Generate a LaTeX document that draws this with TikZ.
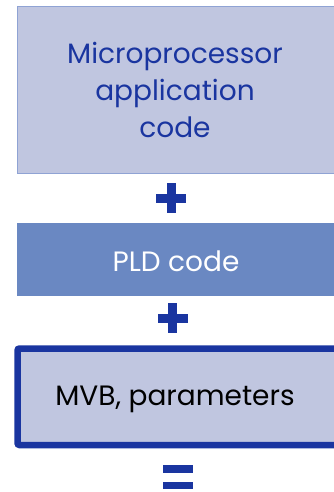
\documentclass[tikz,border=0pt]{standalone}
\usepackage{fontspec}
\setmainfont{Poppins}
\definecolor{lightbox}{HTML}{C0C6E0}
\definecolor{midbox}{HTML}{6A88C2}
\definecolor{darkblue}{HTML}{1A35A0}
\definecolor{thinedge}{HTML}{8FA3D4}
\tikzset{
  lightnode/.style={fill=lightbox, draw=thinedge, line width=0.8pt},
  midnode/.style={fill=midbox, draw=none},
  boldnode/.style={fill=lightbox, draw=darkblue, line width=6.5pt, rounded corners=2pt},
  symbar/.style={fill=darkblue, draw=none},
  label/.style={font=\fontsize{28}{37}\selectfont, align=center, inner sep=0pt}
}
\begin{document}
\begin{tikzpicture}[x=1pt,y=-1pt]
\useasboundingbox (0,0) rectangle (334,492);
\clip (0,0) rectangle (334,492);
% box 1
\path[lightnode] (17,6) rectangle (345,173);
\node[label, text=darkblue] (t1) at (175,90) {Microprocessor\\application\\code};
% plus 1
\path[symbar] (156,194) rectangle (186,203);
\path[symbar] (166.5,183) rectangle (175.5,213);
% box 2
\path[midnode] (17,223) rectangle (345,296);
\node[label, text=white] (t2) at (176,261) {PLD code};
% plus 2
\path[symbar] (157.5,314) rectangle (187.5,323);
\path[symbar] (168,303) rectangle (177,333);
% box 3
\path[boldnode] (17.5,348.5) rectangle (345,445);
\node[label, text=black] (t3) at (175,399) {MVB, parameters};
% equals
\path[symbar] (163,465) rectangle (193,473);
\path[symbar] (163,481.5) rectangle (193,489);
\end{tikzpicture}
\end{document}
